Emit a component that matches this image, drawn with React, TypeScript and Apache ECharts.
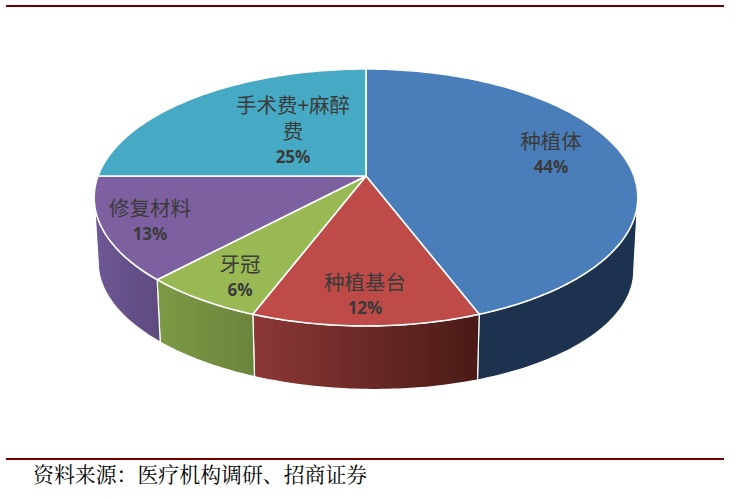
import React, { useEffect, useRef } from "react";
import * as echarts from "echarts";

const categories = ["种植体", "种植基台", "牙冠", "修复材料", "手术费+麻醉费"];
const shares = [44.2, 11.6, 6.2, 13, 25];
const labelLines = [["种植体"], ["种植基台"], ["牙冠"], ["修复材料"], ["手术费+麻醉", "费"]];
const topColors = ["#4a7ebb", "#be4b48", "#98b954", "#7d60a0", "#46aac4"];
const wallColors = [
  ["#1c324e", "#1c324e"],
  ["#8c3836", "#4a1a16"],
  ["#7c9a45", "#6b843c"],
  ["#6e5896", "#5d4a7e"],
  ["#2c6f82", "#2c6f82"],
];
const labelAnchors = [
  [551, 140],
  [365, 281],
  [240, 263],
  [150, 207],
  [293, 104],
];
const sourceText = "资料来源\uFF1A医疗机构调研、招商证券";

const TOP = { cy: 176, a: 268, b: 124.9, k: 0.167, tilt: 0 };
const BOTTOM = { cy: 246, a: 264, b: 119.5, k: 0.167, tilt: 0.015 };
const CX = 366;
const WALL_FROM = 99.6;
const WALL_TO = 260.4;
const LINE_H = 26;

function project(p: typeof TOP, deg: number): number[] {
  const t = (deg * Math.PI) / 180;
  const u = Math.sin(t);
  const v = Math.cos(t);
  const d = 1 + p.k * v;
  const dx = (p.a * u) / d;
  return [CX + dx, p.cy - (p.b * v) / d + p.tilt * dx];
}

function arc(p: typeof TOP, from: number, to: number): number[][] {
  const pts: number[][] = [];
  const n = Math.max(1, Math.ceil(Math.abs(to - from)));
  for (let i = 0; i <= n; i++) pts.push(project(p, from + ((to - from) * i) / n));
  return pts;
}

function spanOf(i: number, value: number): number[] {
  const total = shares.reduce((s, x) => s + x, 0);
  const before = shares.slice(0, i).reduce((s, x) => s + x, 0);
  const start = (before / total) * 360;
  return [start, start + (value / total) * 360];
}

export default function App() {
  const ref = useRef<HTMLDivElement>(null);
  useEffect(() => {
    document.body.style.margin = "0";
    document.body.style.overflow = "hidden";
    const chart = echarts.init(ref.current!, undefined, { renderer: "svg" });
    const seriesData = categories.map((name, i) => ({ name, value: shares[i] }));
    const labels: any[] = [];
    labelLines.forEach((lines, i) => {
      const [x, y] = labelAnchors[i];
      labels.push({
        type: "text",
        x,
        y: y - LINE_H / 2,
        z: 10,
        style: {
          text: lines.join("\n"),
          fill: "#3b3b3b",
          font: '20.5px "Noto Sans CJK SC"',
          lineHeight: LINE_H,
          align: "center",
          verticalAlign: "top",
        },
      });
      labels.push({
        type: "text",
        x,
        y: y + lines.length * LINE_H,
        z: 10,
        style: {
          text: Math.round(shares[i]) + "%",
          fill: "#3b3b3b",
          font: 'bold 17px "Open Sans"',
          align: "center",
          verticalAlign: "middle",
        },
      });
    });
    chart.setOption({
      animation: false,
      backgroundColor: "#ffffff",
      series: [
        {
          type: "custom",
          coordinateSystem: "none",
          z: 1,
          silent: true,
          data: seriesData,
          renderItem: (params: any, api: any) => {
            const i = params.dataIndex;
            const [s, e] = spanOf(i, api.value(0));
            const from = Math.max(s, WALL_FROM);
            const to = Math.min(e, WALL_TO);
            if (to <= from) return { type: "group", children: [] };
            const points = [...arc(TOP, from, to), ...arc(BOTTOM, to, from)];
            return {
              type: "polygon",
              shape: { points },
              style: {
                fill: new echarts.graphic.LinearGradient(0, 0, 1, 0, [
                  { offset: 0, color: wallColors[i][0] },
                  { offset: 1, color: wallColors[i][1] },
                ]),
                stroke: "#ffffff",
                lineWidth: 1.2,
              },
            };
          },
        },
        {
          type: "custom",
          coordinateSystem: "none",
          z: 2,
          silent: true,
          data: seriesData,
          renderItem: (params: any, api: any) => {
            const i = params.dataIndex;
            const [s, e] = spanOf(i, api.value(0));
            return {
              type: "polygon",
              shape: { points: [[CX, TOP.cy], ...arc(TOP, s, e)] },
              style: { fill: topColors[i], stroke: "#ffffff", lineWidth: 1.6, lineJoin: "round" },
            };
          },
        },
      ],
      graphic: [
        ...labels,
        { type: "rect", shape: { x: 6, y: 5, width: 718, height: 2 }, style: { fill: "#730000" } },
        { type: "rect", shape: { x: 6, y: 458, width: 718, height: 2 }, style: { fill: "#730000" } },
        {
          type: "text",
          x: 33,
          y: 473,
          style: {
            text: sourceText,
            fill: "#000000",
            font: '20.9px "Noto Serif CJK SC", "Noto Sans CJK SC", serif',
            verticalAlign: "middle",
          },
        },
      ],
    });
    return () => chart.dispose();
  }, []);
  return <div ref={ref} style={{ width: 736, height: 499 }} />;
}
